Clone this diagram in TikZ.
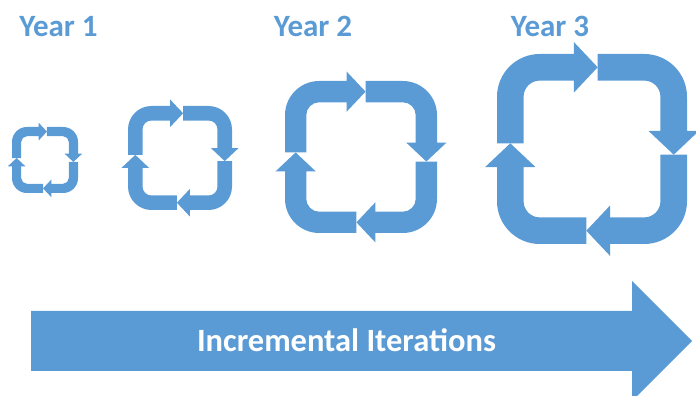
\documentclass[tikz,border=0pt]{standalone}
\usepackage{fontspec}
\setmainfont{Carlito}
\definecolor{cycleblue}{RGB}{91,155,213}

% one bent arrow of a cycle, half size 1, top left quarter
\newcommand{\bentarrow}{%
	\fill (-1,0.06) -- (-1,0.55) arc (180:90:0.45) -- (-0.19,1)
		-- (-0.19,1.125) -- (0.06,0.86) -- (-0.19,0.595) -- (-0.19,0.72)
		-- (-0.55,0.72) arc (90:180:0.17) -- (-0.72,0.06) -- cycle;%
}

\begin{document}
\begin{tikzpicture}[x=1pt,y=1pt,
		yearlabel/.style={text=cycleblue,font=\fontsize{31}{31}\selectfont\bfseries,anchor=base,inner sep=0pt},
		barlabel/.style={text=white,font=\fontsize{32.5}{32.5}\selectfont\bfseries,anchor=base,inner sep=0pt}]
	\clip (0,0) rectangle (696,396);
	% labels
	\node[yearlabel] (year1) at (58.5,359) {Year 1};
	\node[yearlabel] (year2) at (313,359) {Year 2};
	\node[yearlabel] (year3) at (550,359) {Year 3};
	% cycles, growing each year
	\foreach \cx/\cy/\h in {45/236/33, 180/238/52, 361/239/76, 592/247/95}{
		\begin{scope}[shift={(\cx,\cy)},scale=\h,fill=cycleblue]
			\foreach \k in {0,...,3}{
				\begin{scope}[rotate=-90*\k]
					\bentarrow
				\end{scope}
			}
		\end{scope}
	}
	% big arrow
	\fill[cycleblue] (31,25) -- (632,25) -- (632,-5) -- (692,55) -- (632,115)
		-- (632,85) -- (31,85) -- cycle;
	\node[barlabel] (iter) at (346.5,44) {Incremental Iterations};
\end{tikzpicture}
\end{document}
